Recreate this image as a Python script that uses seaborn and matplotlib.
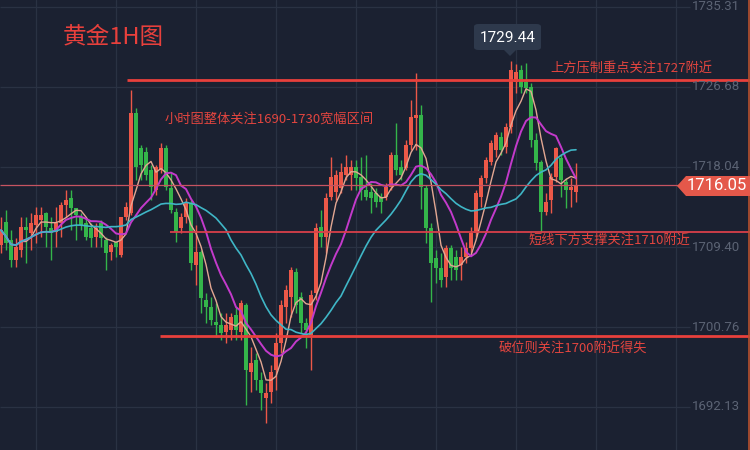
import numpy as np
import pandas as pd
import matplotlib
matplotlib.use("Agg")
import matplotlib.pyplot as plt
import matplotlib.transforms as mtransforms
from matplotlib.patches import Polygon, FancyBboxPatch
import seaborn as sns

# ---------------- data ----------------
opens = [1709.61, 1712.09, 1710.15, 1707.99, 1709.07, 1711.55, 1710.91, 1711.77, 1712.31, 1713.07,
         1711.45, 1711.01, 1711.99, 1713.93, 1714.69, 1713.61, 1712.63, 1711.99, 1711.45, 1710.47,
         1711.99, 1710.15, 1708.85, 1709.93, 1708.53, 1712.63, 1713.07, 1723.87, 1720.09, 1719.65,
         1717.71, 1715.55, 1717.71, 1720.09, 1715.77, 1713.17, 1711.45, 1712.63, 1714.15, 1707.45,
         1708.85, 1703.67, 1702.91, 1701.29, 1700.97, 1700.21, 1700.43, 1702.05, 1700.21, 1703.13,
         1695.89, 1697.19, 1695.03, 1693.09, 1693.73, 1696.11, 1699.03, 1702.91, 1703.99, 1706.69,
         1703.99, 1701.19, 1699.89, 1704.43, 1711.55, 1710.47, 1714.79, 1715.33, 1715.77, 1717.17,
         1717.17, 1718.03, 1716.95, 1715.55, 1715.33, 1715.23, 1714.79, 1714.79, 1715.87, 1719.33,
         1718.03, 1717.93, 1720.41, 1723.33, 1723.65, 1715.77, 1711.45, 1708.21, 1707.13, 1706.15,
         1709.29, 1708.31, 1707.45, 1708.31, 1709.29, 1710.91, 1714.79, 1716.85, 1718.57, 1719.87,
         1721.27, 1720.19, 1722.35, 1727.21, 1728.51, 1727.21, 1726.67, 1720.95, 1718.57, 1713.17,
         1714.47, 1716.95, 1719.01, 1716.41, 1715.55, 1715.33]
closes = [1711.23, 1709.83, 1707.99, 1709.39, 1711.55, 1711.23, 1711.99, 1712.85, 1712.85, 1711.55,
          1710.91, 1711.99, 1713.93, 1714.47, 1713.61, 1712.85, 1711.77, 1710.47, 1710.37, 1711.45,
          1710.37, 1708.75, 1709.61, 1709.39, 1712.63, 1713.71, 1723.87, 1718.03, 1718.25, 1717.17,
          1715.87, 1718.03, 1720.09, 1715.87, 1713.39, 1711.01, 1712.63, 1714.25, 1707.67, 1708.85,
          1703.89, 1702.91, 1701.51, 1700.97, 1700.11, 1700.97, 1701.83, 1700.43, 1703.35, 1696.11,
          1696.87, 1695.03, 1693.63, 1693.63, 1695.89, 1699.03, 1703.13, 1704.75, 1706.91, 1703.13,
          1701.19, 1700.43, 1704.21, 1711.45, 1710.47, 1714.69, 1716.95, 1717.17, 1717.49, 1718.03,
          1718.03, 1716.85, 1715.55, 1714.79, 1714.69, 1714.25, 1714.25, 1715.87, 1719.33, 1717.71,
          1717.17, 1720.41, 1723.43, 1723.65, 1715.87, 1711.45, 1707.67, 1707.13, 1705.83, 1709.29,
          1707.13, 1706.91, 1708.31, 1709.29, 1710.91, 1715.23, 1716.85, 1718.79, 1720.63, 1721.49,
          1719.87, 1722.35, 1728.51, 1728.29, 1726.67, 1726.57, 1720.95, 1718.47, 1713.17, 1714.25,
          1716.95, 1720.09, 1716.63, 1715.55, 1715.87, 1716.05]
highs = [1712.63, 1713.39, 1711.23, 1710.37, 1712.63, 1712.63, 1713.07, 1713.71, 1713.71, 1713.17,
         1712.63, 1713.71, 1714.25, 1715.55, 1715.55, 1713.61, 1713.07, 1712.63, 1711.99, 1711.99,
         1712.31, 1710.47, 1709.83, 1709.93, 1712.63, 1714.25, 1726.35, 1724.41, 1720.41, 1720.19,
         1718.25, 1718.25, 1720.63, 1720.41, 1717.39, 1713.61, 1713.07, 1714.69, 1714.47, 1711.77,
         1709.07, 1704.43, 1703.99, 1703.35, 1702.27, 1702.27, 1702.27, 1702.91, 1703.67, 1703.35,
         1698.59, 1697.95, 1695.89, 1694.71, 1696.65, 1700.11, 1703.67, 1705.29, 1707.23, 1707.13,
         1704.53, 1701.73, 1704.75, 1711.99, 1713.39, 1715.23, 1719.11, 1717.71, 1718.47, 1719.33,
         1718.79, 1718.79, 1719.11, 1719.33, 1716.31, 1715.77, 1715.23, 1716.31, 1719.65, 1722.79,
         1718.79, 1720.95, 1725.27, 1728.19, 1724.73, 1716.09, 1711.99, 1709.07, 1708.75, 1709.61,
         1709.61, 1709.07, 1709.39, 1709.93, 1711.55, 1715.55, 1717.17, 1719.11, 1720.95, 1721.81,
         1721.81, 1722.79, 1729.44, 1729.20, 1729.05, 1729.27, 1727.10, 1721.71, 1718.79, 1715.23,
         1717.39, 1720.19, 1719.33, 1716.85, 1716.85, 1718.47]
lows = [1708.75, 1709.07, 1707.23, 1707.23, 1708.31, 1707.67, 1709.07, 1709.83, 1710.47, 1709.39,
        1707.99, 1709.39, 1710.47, 1712.63, 1711.23, 1710.15, 1711.23, 1710.15, 1709.39, 1709.39,
        1709.39, 1706.91, 1707.99, 1708.31, 1708.31, 1712.31, 1712.85, 1716.63, 1716.63, 1716.63,
        1714.47, 1715.01, 1717.39, 1715.55, 1713.07, 1709.93, 1710.91, 1711.99, 1706.91, 1705.29,
        1702.27, 1701.19, 1700.97, 1699.67, 1699.35, 1699.03, 1699.35, 1699.35, 1699.35, 1692.33,
        1693.73, 1693.95, 1691.79, 1690.39, 1692.55, 1693.95, 1697.95, 1701.19, 1701.83, 1702.27,
        1700.11, 1698.49, 1696.11, 1703.67, 1709.39, 1708.75, 1714.47, 1714.47, 1715.23, 1716.63,
        1715.55, 1715.55, 1714.47, 1714.47, 1713.07, 1713.71, 1713.07, 1714.47, 1715.55, 1717.17,
        1716.63, 1717.71, 1719.87, 1719.87, 1713.50, 1709.83, 1703.45, 1705.51, 1705.07, 1705.07,
        1705.83, 1705.83, 1705.83, 1707.67, 1708.75, 1710.47, 1713.71, 1716.31, 1718.25, 1719.11,
        1719.33, 1719.55, 1721.71, 1726.03, 1726.03, 1726.03, 1720.19, 1717.71, 1711.01, 1712.85,
        1713.07, 1716.41, 1714.79, 1713.61, 1713.71, 1714.25]

axis_ticks = [1735.31, 1726.68, 1718.04, 1709.40, 1700.76, 1692.13]
level_resist = 1727.4
level_support = 1711.0
level_break = 1699.8
last_price = 1716.05
peak_price = 1729.44
ma_windows = [5, 10, 20]

title_text = "黄金1H图"
note_resist = "上方压制重点关注1727附近"
note_range = "小时图整体关注1690-1730宽幅区间"
note_support = "短线下方支撑关注1710附近"
note_break = "破位则关注1700附近得失"

# ---------------- style ----------------
sns.set_theme(style="dark")
plt.rcParams['font.family'] = ['Noto Sans CJK SC', 'DejaVu Sans']

BG = '#1b2131'
GRID = '#2a3243'
UP = '#ec5848'
DOWN = '#34b54a'
RED = '#e8403c'
MA_COLORS = ['#e3a792', '#c33acb', '#3fb6c6']
MA_LW = [1.0, 1.4, 1.2]

W, H = 750, 450
X0, DX = 1, 5
slope = (axis_ticks[0] - axis_ticks[-1]) / 400.0


def px2x(px):
    return (px - X0) / DX


def py2y(py):
    return axis_ticks[0] - (py - 7) * slope


fig = plt.figure(figsize=(7.5, 4.5), dpi=100, facecolor=BG)
ax = fig.add_axes([0, 0, 1, 1])
ax.set_facecolor(BG)
ax.set_xlim(px2x(0), px2x(W))
ax.set_ylim(py2y(H), py2y(0))
ax.axis('off')

blend = mtransforms.blended_transform_factory(ax.transAxes, ax.transData)

# grid
for gx in range(36, 700, 80):
    ax.axvline(px2x(gx), color=GRID, lw=0.9, zorder=0)
for t in axis_ticks:
    ax.hlines(t, px2x(0), px2x(690), color=GRID, lw=0.9, zorder=0)

df = pd.DataFrame({'i': np.arange(len(closes)), 'open': opens, 'close': closes,
                   'high': highs, 'low': lows})

# candles
up = df['close'] >= df['open']
colors = np.where(up, UP, DOWN)
ax.vlines(df['i'], df['low'], df['high'], colors=colors, lw=1.0, zorder=2)
body_lo = np.minimum(df['open'], df['close'])
body_h = np.maximum(np.abs(df['close'] - df['open']), 0.12)
ax.bar(df['i'], body_h, bottom=body_lo, width=0.72, color=colors, lw=0, zorder=3)

# moving averages
for w, c, lw in zip(ma_windows, MA_COLORS, MA_LW):
    df[f'ma{w}'] = df['close'].rolling(w, min_periods=1).mean()
    sns.lineplot(data=df, x='i', y=f'ma{w}', ax=ax, color=c, lw=lw, zorder=4)
ax.set_xlim(px2x(0), px2x(W))
ax.set_ylim(py2y(H), py2y(0))
ax.axis('off')

# level lines
ax.hlines(last_price, px2x(0), px2x(W), color='#c65461', lw=0.9, zorder=5)
ax.hlines(level_resist, px2x(127), px2x(W), color=RED, lw=2.0, zorder=5)
ax.hlines(level_support, px2x(170), px2x(W), color='#d8404a', lw=1.3, zorder=5)
ax.hlines(level_break, px2x(160), px2x(W), color=RED, lw=2.0, zorder=5)
ax.axvline(px2x(749), color='#b8502e', lw=1.2, zorder=5)

# right axis labels
for t in axis_ticks:
    ax.text(740 / W, t, f"{t:.2f}", transform=blend, ha='right', va='center',
            color='#5b6374', fontsize=9.5, family='Roboto', zorder=6)

# last price tag
tag = Polygon([(677 / W, 0.5), (686 / W, 0.5), (W / W, 0.5)], closed=True)
py_c = 186
pts = [(677, py_c), (686, py_c - 10), (W, py_c - 10), (W, py_c + 10), (686, py_c + 10)]
tag = Polygon([(x / W, 1 - y / H) for x, y in pts], closed=True, transform=ax.transAxes,
              facecolor='#e4584a', edgecolor='none', zorder=7)
ax.add_patch(tag)
ax.text(717 / W, last_price, f"{last_price:.2f}", transform=blend, ha='center', va='center',
        color='white', fontsize=12, family='Roboto', zorder=8)

# peak tooltip
box = FancyBboxPatch((474 / W, 1 - 50 / H), 67 / W, 26 / H,
                     boxstyle="round,pad=0,rounding_size=0.006", transform=ax.transAxes,
                     facecolor='#2e394c', edgecolor='none', zorder=7)
ax.add_patch(box)
tri = Polygon([(x / W, 1 - y / H) for x, y in [(504, 50), (516, 50), (510, 56)]], closed=True,
              transform=ax.transAxes, facecolor='#2e394c', edgecolor='none', zorder=7)
ax.add_patch(tri)
ax.text(507.5 / W, 1 - 37.5 / H, f"{peak_price:.2f}", transform=ax.transAxes, ha='center',
        va='center', color='white', fontsize=11, family='Roboto', zorder=8)

# title and notes
ax.text(63 / W, 1 - 38 / H, title_text, transform=ax.transAxes, ha='left', va='center',
        color=RED, fontsize=17, zorder=8)
ax.text(550 / W, 1 - 69 / H, note_resist, transform=ax.transAxes, ha='left', va='center',
        color='#e2453f', fontsize=9.5, zorder=8)
ax.text(165 / W, 1 - 119 / H, note_range, transform=ax.transAxes, ha='left', va='center',
        color='#e2453f', fontsize=9.5, zorder=8)
ax.text(528 / W, 1 - 241 / H, note_support, transform=ax.transAxes, ha='left', va='center',
        color='#e2453f', fontsize=9.5, zorder=8)
ax.text(499 / W, 1 - 349 / H, note_break, transform=ax.transAxes, ha='left', va='center',
        color='#e2453f', fontsize=9.5, zorder=8)

fig.savefig("out.png", dpi=100, facecolor=BG)
